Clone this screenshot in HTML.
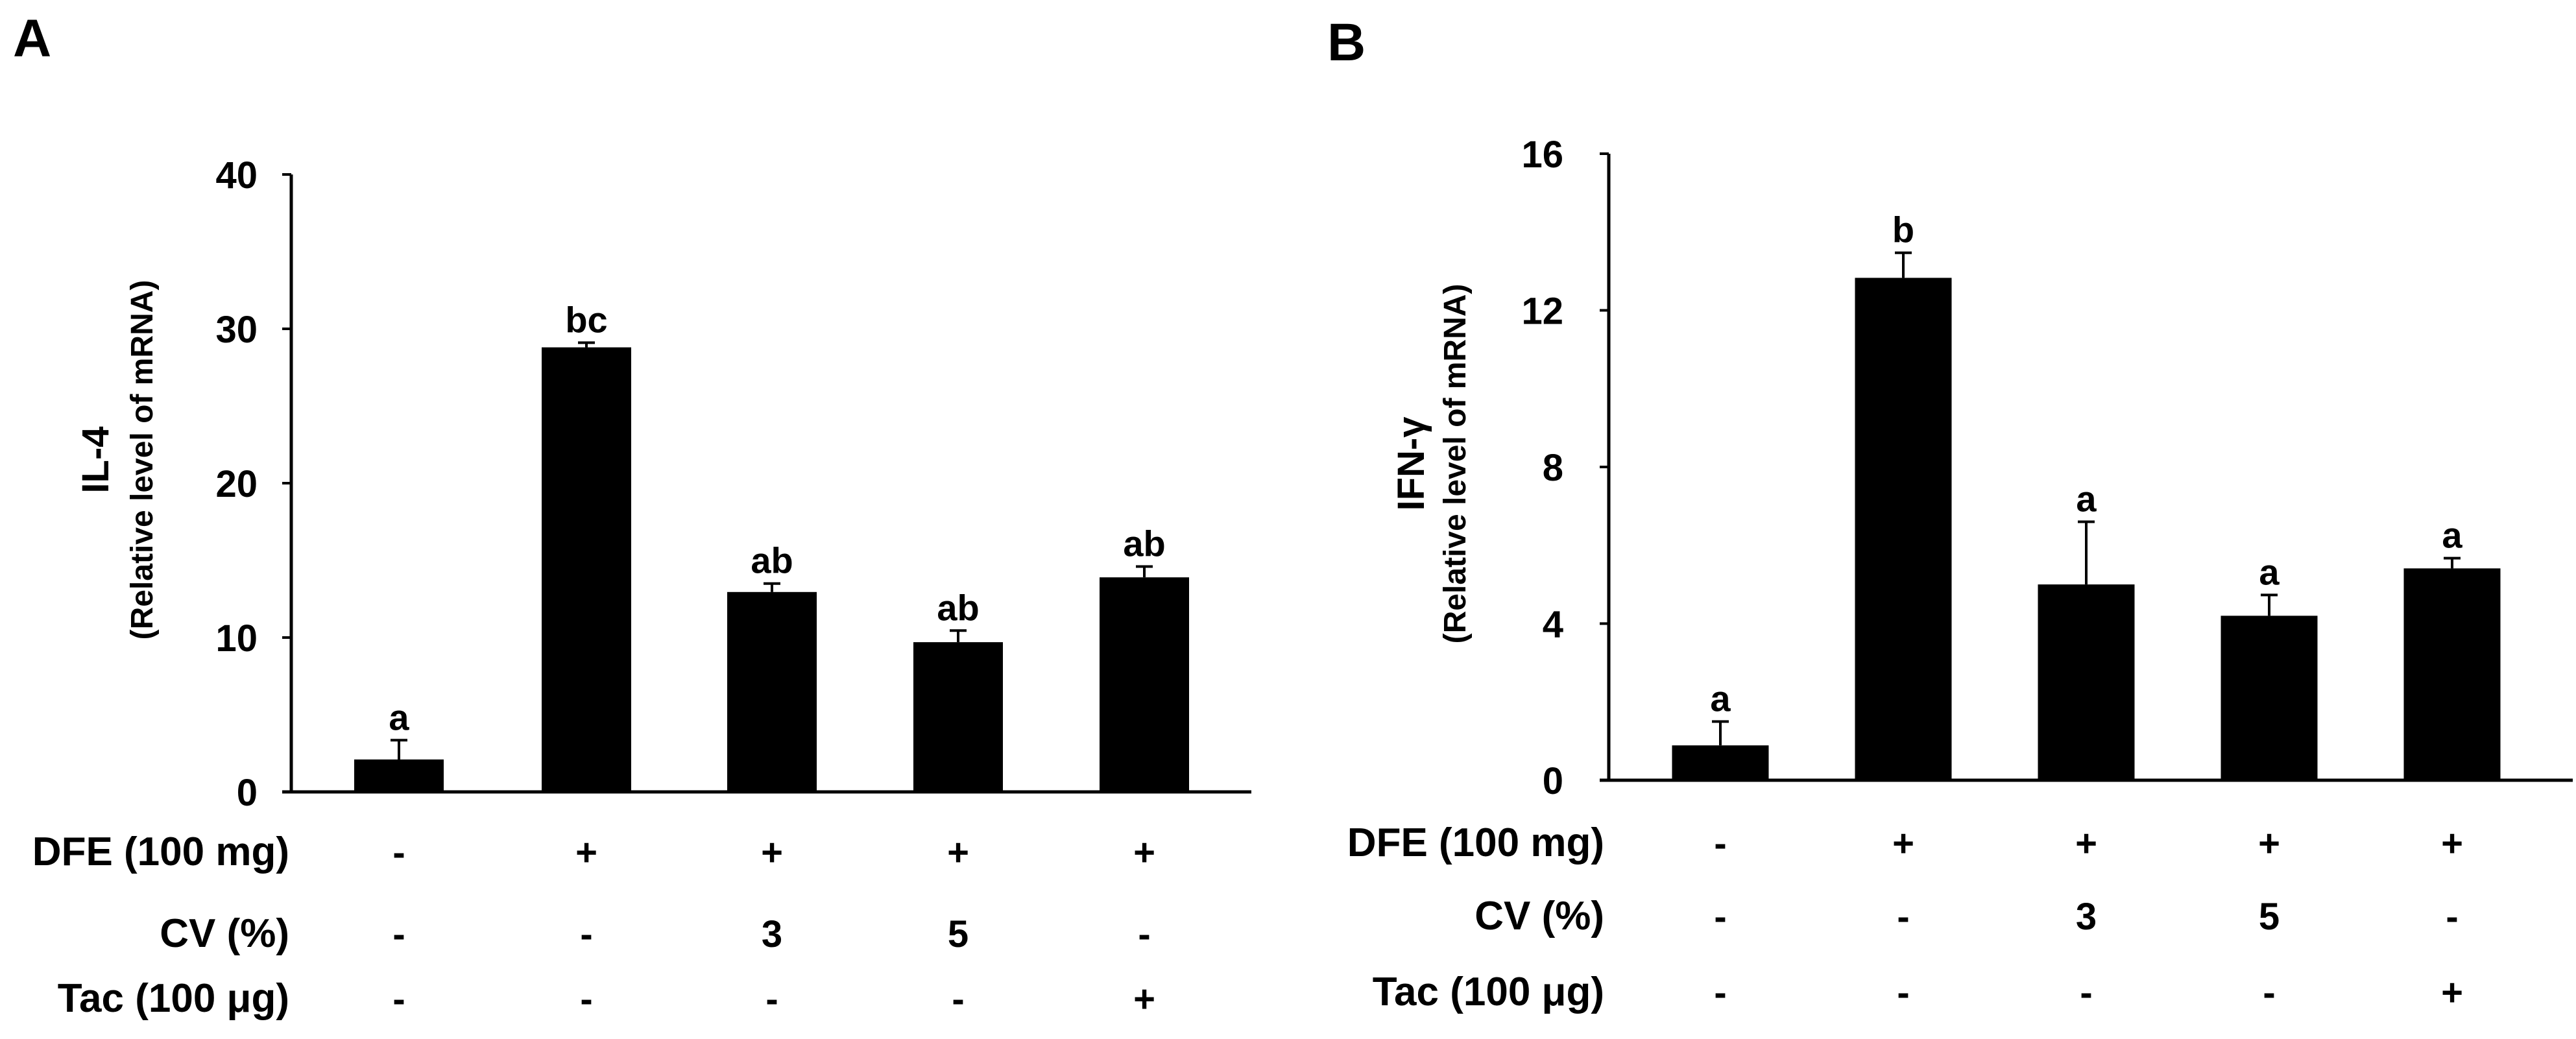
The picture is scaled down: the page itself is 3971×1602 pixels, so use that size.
<!DOCTYPE html>
<html><head><meta charset="utf-8"><style>
html,body{margin:0;padding:0;background:#fff;}
svg{display:block;}
text{font-family:"Liberation Sans",Arial,sans-serif;font-weight:bold;fill:#000;}
</style></head>
<body>
<svg id="fig" width="3971" height="1602" viewBox="0 0 3971 1602" xmlns="http://www.w3.org/2000/svg">
<rect width="3971" height="1602" fill="#fff"/>
<text x="20" y="87" font-size="82">A</text>
<text x="2046" y="93" font-size="82">B</text>
<text transform="translate(167,709) rotate(-90)" text-anchor="middle" font-size="58">IL-4</text>
<text transform="translate(235,709) rotate(-90)" text-anchor="middle" font-size="48">(Relative level of mRNA)</text>
<text transform="translate(2195,715) rotate(-90)" text-anchor="middle" font-size="58">IFN-γ</text>
<text transform="translate(2259,715) rotate(-90)" text-anchor="middle" font-size="48">(Relative level of mRNA)</text>
</svg>
<script>
// Panel A data
const groupsA = ["g1","g2","g3","g4","g5"];
const valuesA = [2.1, 28.8, 12.95, 9.7, 13.9];
const errorsA = [1.25, 0.3, 0.55, 0.75, 0.7];
const lettersA = ["a","bc","ab","ab","ab"];
const ticksA = [0, 10, 20, 30, 40];
// Panel B data
const valuesB = [0.89, 12.83, 5.0, 4.2, 5.41];
const errorsB = [0.61, 0.64, 1.6, 0.53, 0.26];
const lettersB = ["a","b","a","a","a"];
const ticksB = [0, 4, 8, 12, 16];
// Treatment table
const rowLabels = ["DFE (100 mg)", "CV (%)", "Tac (100 μg)"];
const rowDFE = ["-","+","+","+","+"];
const rowCV = ["-","-","3","5","-"];
const rowTac = ["-","-","-","-","+"];

const NS = "http://www.w3.org/2000/svg";
const svg = document.getElementById("fig");
function mk(tag, attrs){const e=document.createElementNS(NS,tag);for(const k in attrs)e.setAttribute(k,attrs[k]);svg.appendChild(e);return e;}

function panel(cfg){
  const {axisX, yTop, yZero, yMax, xEnd, centers, barW, values, errors, letters, ticks, tickRight, rowRight, rowBase, id} = cfg;
  const y = v => yZero - (v / yMax) * (yZero - yTop);
  let e = mk("line",{x1:axisX,y1:yTop,x2:axisX,y2:yZero+2,stroke:"#000","stroke-width":5});
  
  
  e = mk("line",{x1:axisX-14,y1:yZero,x2:xEnd,y2:yZero,stroke:"#000","stroke-width":5});
  
  
  ticks.forEach(t=>{
    const tl = mk("line",{x1:axisX-14,y1:y(t),x2:axisX,y2:y(t),stroke:"#000","stroke-width":4});
    
    
    const tx = mk("text",{x:tickRight,y:y(t)+21,"text-anchor":"end","font-size":58});
    tx.textContent = t;
    
    
  });
  values.forEach((v,i)=>{
    const cx = centers[i];
    const b = mk("rect",{x:cx-barW/2,y:y(v),width:barW,height:yZero-y(v),fill:"#000"});
    
    
    const top = y(v+errors[i]);
    const el = mk("path",{d:`M${cx},${y(v)} V${top} M${cx-13},${top} H${cx+13}`,stroke:"#000","stroke-width":4,fill:"none"});
    
    
    const lt = mk("text",{x:cx,y:top-16,"text-anchor":"middle","font-size":56});
    lt.textContent = letters[i];
    
    
  });
  const rows=[rowDFE,rowCV,rowTac];
  rowLabels.forEach((lab,r)=>{
    const t = mk("text",{x:rowRight,y:rowBase[r],"text-anchor":"end","font-size":62});
    t.textContent = lab;
    
    
    rows[r].forEach((s,i)=>{
      const c = mk("text",{x:centers[i],y:rowBase[r],"text-anchor":"middle","font-size":58});
      c.textContent = s;
      
      
    });
  });
}

panel({id:"a",axisX:449,yTop:269,yZero:1221,yMax:40,xEnd:1929,centers:[615,904,1190,1477,1764],barW:138,
  values:valuesA,errors:errorsA,letters:lettersA,ticks:ticksA,tickRight:397,rowRight:446,rowBase:[1334,1460,1560]});
panel({id:"b",axisX:2480,yTop:237,yZero:1203,yMax:16,xEnd:3966,centers:[2652,2934,3216,3498,3780],barW:149,
  values:valuesB,errors:errorsB,letters:lettersB,ticks:ticksB,tickRight:2410,rowRight:2473,rowBase:[1320,1433,1550]});
</script>
</body></html>
